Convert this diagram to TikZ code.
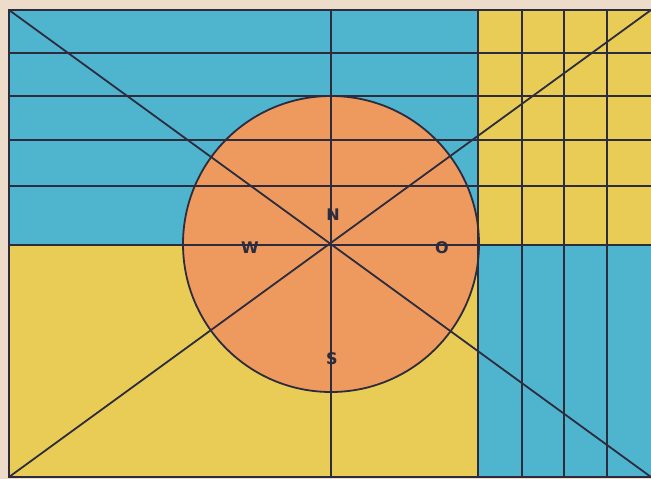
\documentclass[tikz,border=0pt]{standalone}
\usepackage{fontspec}
\setsansfont{DejaVu Sans}
\begin{document}
\begin{tikzpicture}[x=1pt,y=-1pt,
  ink/.style={draw=inkc,line width=1.8pt,line cap=round},
  letter/.style={font=\sffamily\bfseries\fontsize{16}{16}\selectfont,text=inkc,inner sep=0pt}]
\definecolor{paper}{HTML}{EEDCCB}
\definecolor{bluef}{HTML}{4FB4CE}
\definecolor{yellowf}{HTML}{E8CC55}
\definecolor{orangef}{HTML}{EE9A5E}
\definecolor{inkc}{HTML}{2C2C3E}
\fill[paper] (0,0) rectangle (651,479);
\useasboundingbox (0,0) rectangle (651,479);
% corners
\coordinate (TL) at (9,10);
\coordinate (TR) at (651,10);
\coordinate (BL) at (9,477);
\coordinate (BR) at (651,477);
\coordinate (C) at (331,244);
% fills
\fill[bluef] (9,10) rectangle (478,245);
\fill[yellowf] (9,245) rectangle (478,477);
\fill[yellowf] (478,10) rectangle (651,245);
\fill[bluef] (478,245) rectangle (651,477);
\fill[orangef] (C) circle (148);
% horizontal lines
\foreach \y in {53,96,140,186} \draw[ink] (9,\y) -- (651,\y);
\draw[ink] (9,245) -- (651,245);
% vertical lines
\draw[ink] (331,10) -- (331,477);
\foreach \x in {478,522,564,607} \draw[ink] (\x,10) -- (\x,477);
% frame
\draw[ink] (TR) -- (TL) -- (BL) -- (BR);
% diagonals
\draw[ink] (TL) -- (BR);
\draw[ink] (BL) -- (TR);
% circle outline
\draw[ink] (C) circle (148);
% letters
\node[letter] (N) at (333,215) {N};
\node[letter] (W) at (250,248) {W};
\node[letter] (O) at (442,248) {O};
\node[letter] (S) at (332,359) {S};
\end{tikzpicture}
\end{document}
